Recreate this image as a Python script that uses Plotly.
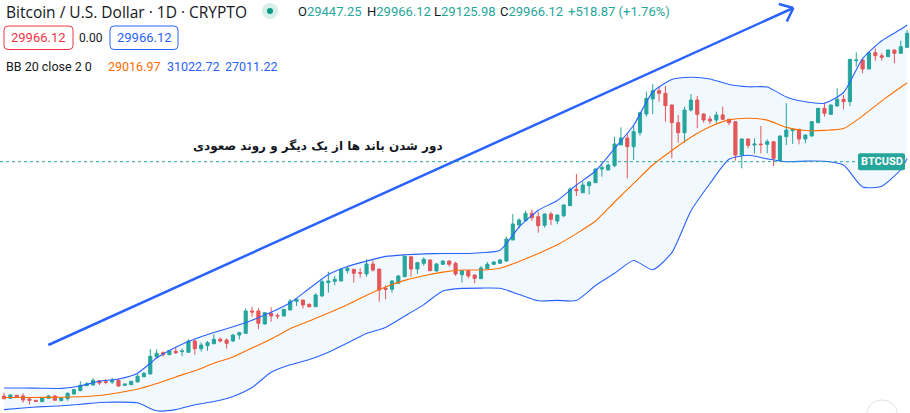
import math
import plotly.graph_objects as go

W, H = 910, 413
X_RANGE = [-0.63, 142.45]
Y_RANGE = [9350, 30000]

GREEN = "#26a69a"
RED = "#ef5350"
BLUE = "#2962ff"
ORANGE = "#ff6d00"
TEXT = "#131722"

# ---------------- candles (daily OHLC) ----------------
OPEN = [10200, 10085, 10235, 10200, 10050, 9985, 9915, 10085, 10200, 9965,
        10065, 10300, 10465, 10715, 10750, 10965, 10915, 10900, 10985, 10735,
        10765, 10900, 11165, 11300, 12150, 12365, 12265, 12435, 12415, 12385,
        12950, 12565, 12715, 12815, 13035, 13000, 12950, 13250, 13335, 14450,
        14450, 13800, 14335, 14225, 14200, 14500, 14935, 15000, 14785, 14665,
        15200, 15865, 15935, 15950, 16465, 16535, 16365, 16300, 16800, 16550,
        15585, 15535, 15835, 16165, 17165, 16550, 16835, 17000, 16450, 16785,
        16950, 16835, 16265, 16465, 16250, 16065, 16565, 16785, 16835, 16950,
        18000, 18750, 18965, 19335, 19165, 18735, 19300, 18950, 19215, 19715,
        20535, 20365, 20715, 20865, 21550, 21500, 21715, 22750, 23100, 22665,
        23365, 24300, 25050, 25465, 25335, 24750, 23865, 23365, 24500, 25000,
        24300, 24050, 24000, 24250, 24035, 23915, 22250, 23050, 22750, 22800,
        22785, 22915, 21965, 23165, 23465, 23535, 23050, 23200, 23865, 24585,
        24285, 24700, 25035, 24915, 26965, 27000, 26550, 27365, 27215, 27165,
        27500, 27335, 27635]
HIGH = [10365, 10285, 10250, 10335, 10135, 10000, 10115, 10250, 10250, 10115,
        10385, 10565, 10950, 10900, 11085, 10985, 11050, 11115, 11050, 10815,
        10950, 11315, 11400, 12550, 12535, 12435, 12485, 12650, 12565, 13035,
        13035, 12885, 12950, 13285, 13135, 13085, 13300, 13415, 14585, 14665,
        14585, 14400, 14635, 14335, 14550, 15050, 15100, 15000, 14825, 15335,
        16000, 16415, 16200, 16600, 16700, 16550, 16585, 17050, 16985, 16550,
        15735, 16000, 16250, 17200, 17165, 16915, 17135, 17025, 16850, 16975,
        16975, 16915, 16475, 16475, 16275, 16700, 16900, 16925, 17050, 18165,
        19300, 19085, 19465, 19535, 19415, 19325, 19415, 19275, 19775, 20635,
        21300, 20915, 20925, 21575, 21750, 21835, 23165, 23635, 23300, 23750,
        24415, 25415, 25800, 25700, 25700, 24775, 24250, 24665, 25300, 25200,
        24325, 24200, 24415, 24665, 24050, 23925, 23075, 23075, 23085, 23700,
        23035, 22925, 23225, 24835, 23575, 23550, 23275, 23950, 24600, 24865,
        24775, 25585, 25250, 27050, 27385, 27025, 27400, 27585, 27335, 27535,
        27525, 27965, 28500]
LOW = [10035, 10065, 10115, 9865, 9785, 9925, 9915, 10050, 9965, 9950,
       9965, 10265, 10465, 10700, 10735, 10750, 10785, 10800, 10665, 10715,
       10750, 10900, 11135, 11300, 12100, 12165, 12250, 12300, 12185, 12385,
       12265, 12415, 12465, 12785, 12885, 12565, 12900, 13035, 13335, 14165,
       13535, 13775, 13915, 14050, 14175, 14500, 14700, 14565, 14625, 14665,
       15165, 15365, 15735, 15950, 16335, 15865, 16115, 16165, 16415, 14915,
       15035, 15365, 15800, 16165, 16165, 16300, 16715, 16450, 16425, 16750,
       16665, 16200, 15865, 16085, 15835, 16065, 16550, 16750, 16825, 16915,
       18000, 18585, 18950, 18965, 18365, 18615, 18750, 18785, 19135, 19715,
       20200, 20365, 20285, 20865, 21165, 21500, 21635, 22750, 21085, 22000,
       23215, 24165, 24300, 24915, 23915, 22085, 22865, 22865, 24415, 23585,
       23865, 23800, 23835, 24000, 23750, 21965, 21585, 22585, 22335, 22335,
       22335, 21700, 21950, 22750, 22800, 22785, 22835, 23175, 23850, 24165,
       24250, 24675, 24535, 24700, 26665, 26335, 26550, 26965, 26965, 27150,
       26835, 27325, 27635]
CLOSE = [10065, 10250, 10135, 10000, 9985, 9935, 10100, 10200, 9985, 10100,
         10335, 10515, 10735, 10815, 10985, 10850, 10885, 10985, 10700, 10800,
         10935, 11185, 11335, 12185, 12335, 12265, 12465, 12365, 12450, 12950,
         12565, 12750, 12865, 13035, 12950, 12835, 13250, 13365, 14450, 14400,
         13835, 14365, 14200, 14200, 14535, 14950, 15035, 14750, 14665, 15250,
         15915, 15950, 16035, 16535, 16585, 16335, 16335, 16800, 16500, 15500,
         15535, 15950, 16200, 17200, 16550, 16865, 17035, 16465, 16800, 16950,
         16785, 16300, 16465, 16200, 16085, 16600, 16785, 16900, 17000, 18050,
         18800, 19000, 19335, 19115, 18715, 19300, 19035, 19250, 19750, 20535,
         20465, 20750, 20900, 21550, 21615, 21750, 22800, 23100, 22665, 23415,
         24365, 25085, 25465, 25335, 24715, 23865, 23365, 24500, 25000, 24285,
         24000, 23950, 24250, 24035, 23865, 22250, 23050, 22735, 22800, 22765,
         22915, 22085, 23200, 23500, 23550, 23050, 23250, 23915, 24585, 24335,
         24750, 25035, 24915, 27035, 27000, 26550, 27365, 27215, 27135, 27500,
         27335, 27665, 28335]
BAR_INDEX = list(range(len(CLOSE)))

# ---------------- Bollinger Bands (20, close, 2) read at bar positions ----------------
BAND_X = [0, 3, 6, 9, 12, 15, 18, 21, 24, 27, 30, 33, 36, 39, 42, 45, 48, 51, 54, 57,
          60, 63, 66, 69, 72, 75, 78, 81, 84, 87, 90, 93, 96, 99, 102, 105, 108, 111,
          114, 117, 120, 123, 126, 129, 132, 135, 138, 141, 142]
BB_UPPER = [10600, 10600, 10590, 10580, 10700, 10940, 11050, 11340, 12100, 12640,
            13050, 13370, 13665, 13990, 14385, 14860, 15575, 16275, 16675, 16945,
            17180, 17260, 17305, 17325, 17325, 17365, 17490, 18650, 19490, 19975,
            20750, 21450, 22575, 23735, 25400, 26025, 26135, 26050, 25775, 25660,
            25650, 25150, 24910, 24840, 25375, 27065, 27960, 28535, 28750]
BB_BASIS = [10125, 10125, 10130, 10135, 10165, 10225, 10365, 10535, 10820, 11155,
            11465, 11835, 12150, 12600, 13050, 13565, 13950, 14350, 14765, 15240,
            15650, 15980, 16215, 16395, 16500, 16500, 16590, 16930, 17325, 17765,
            18320, 18950, 19900, 20830, 21750, 22475, 23140, 23660, 24005, 24085,
            23995, 23630, 23475, 23480, 23570, 24205, 24955, 25640, 25850]
BB_LOWER = [9520, 9600, 9670, 9710, 9785, 9875, 9895, 9860, 9460, 9520,
            9760, 9925, 10180, 10625, 11385, 11760, 12020, 12390, 12850, 13320,
            13630, 14190, 14770, 15450, 15580, 15595, 15585, 15275, 14960, 14980,
            14975, 15725, 16340, 16975, 16510, 17370, 19450, 20825, 22035, 22235,
            22055, 21915, 21945, 21935, 21745, 20650, 20690, 21525, 22070]

# ---------------- drawings ----------------
PRICE_LINE = 21915
PRICE_LABEL = "BTCUSD"
ARROW_START = (6.97, 12750)
ARROW_END = (124.1, 29600)
NOTE_POS = (49.4, 22700)
NOTE_TEXT = "دور شدن باند ها از یک دیگر و روند صعودی"

TITLE = "Bitcoin / U.S. Dollar · 1D · CRYPTO"
OHLC_LABELS = ["O", "H", "L", "C", ""]
OHLC_VALUES = ["29447.25", "29966.12", "29125.98", "29966.12", "+518.87 (+1.76%)"]
BB_TITLE = "BB 20 close 2 0"
BB_VALUES = ["29016.97", "31022.72", "27011.22"]
LAST_PRICE = "29966.12"
SPREAD = "0.00"


def to_px(xv, yv):
    xp = (xv - X_RANGE[0]) / (X_RANGE[1] - X_RANGE[0]) * W
    yp = (Y_RANGE[1] - yv) / (Y_RANGE[1] - Y_RANGE[0]) * H
    return xp, yp


def from_px(xp, yp):
    xv = X_RANGE[0] + xp / W * (X_RANGE[1] - X_RANGE[0])
    yv = Y_RANGE[1] - yp / H * (Y_RANGE[1] - Y_RANGE[0])
    return xv, yv


def px(x):
    return x / W


def py(y):
    return 1 - y / H


def rounded_rect(x0, y0, x1, y1, r):
    return (f"M {px(x0 + r)},{py(y0)} L {px(x1 - r)},{py(y0)} "
            f"Q {px(x1)},{py(y0)} {px(x1)},{py(y0 + r)} "
            f"L {px(x1)},{py(y1 - r)} Q {px(x1)},{py(y1)} {px(x1 - r)},{py(y1)} "
            f"L {px(x0 + r)},{py(y1)} Q {px(x0)},{py(y1)} {px(x0)},{py(y1 - r)} "
            f"L {px(x0)},{py(y0 + r)} Q {px(x0)},{py(y0)} {px(x0 + r)},{py(y0)} Z")


fig = go.Figure()

band_line = dict(color=BLUE, width=1.1, shape="spline", smoothing=0.6)
fig.add_trace(go.Scatter(x=BAND_X, y=BB_LOWER, mode="lines", line=band_line, hoverinfo="skip"))
fig.add_trace(go.Scatter(x=BAND_X, y=BB_UPPER, mode="lines", line=band_line, fill="tonexty",
                         fillcolor="rgba(33,150,243,0.06)", hoverinfo="skip"))
fig.add_trace(go.Scatter(x=BAND_X, y=BB_BASIS, mode="lines",
                         line=dict(color=ORANGE, width=1.1, shape="spline", smoothing=0.6),
                         hoverinfo="skip"))

fig.add_trace(go.Candlestick(
    x=BAR_INDEX, open=OPEN, high=HIGH, low=LOW, close=CLOSE,
    increasing=dict(line=dict(color=GREEN, width=1), fillcolor=GREEN),
    decreasing=dict(line=dict(color=RED, width=1), fillcolor=RED),
    whiskerwidth=0,
))

# arrow drawing
sx, sy = to_px(*ARROW_START)
ex, ey = to_px(*ARROW_END)
ang = math.atan2(sy - ey, sx - ex)
ax_list, ay_list = [ARROW_START[0], ARROW_END[0], None], [ARROW_START[1], ARROW_END[1], None]
for d in (math.radians(40), -math.radians(40)):
    bx = ex + 15 * math.cos(ang + d)
    by = ey + 15 * math.sin(ang + d)
    bxv, byv = from_px(bx, by)
    ax_list += [bxv, ARROW_END[0], None]
    ay_list += [byv, ARROW_END[1], None]
fig.add_trace(go.Scatter(x=ax_list, y=ay_list, mode="lines",
                         line=dict(color=BLUE, width=2.5), hoverinfo="skip"))

shapes = []
annotations = []

# price line + label
_, ply = to_px(0, PRICE_LINE)
shapes.append(dict(type="line", xref="paper", yref="y", x0=0, x1=px(858),
                   y0=PRICE_LINE, y1=PRICE_LINE,
                   line=dict(color=GREEN, width=1, dash="dot")))
shapes.append(dict(type="path", xref="paper", yref="paper",
                   path=rounded_rect(858, ply - 8.5, 905, ply + 8.5, 2),
                   fillcolor=GREEN, line=dict(width=0)))
annotations.append(dict(x=px(881.5), y=py(ply), xref="paper", yref="paper",
                        text=f"<b>{PRICE_LABEL}</b>", showarrow=False,
                        xanchor="center", yanchor="middle",
                        font=dict(family="Roboto", size=11, color="white")))

# Persian note
annotations.append(dict(x=NOTE_POS[0], y=NOTE_POS[1], xref="x", yref="y",
                        text=f"<b>{NOTE_TEXT}</b>",
                        showarrow=False, xanchor="center", yanchor="middle",
                        font=dict(family="DejaVu Sans", size=12, color=TEXT)))

# header line 1
annotations.append(dict(x=px(4), y=py(12), xref="paper", yref="paper", text=TITLE,
                        showarrow=False, xanchor="left", yanchor="middle",
                        font=dict(family="Open Sans", size=15.5, color=TEXT)))
shapes.append(dict(type="circle", xref="paper", yref="paper",
                   x0=px(262), x1=px(278), y0=py(3), y1=py(19),
                   fillcolor="#d7efeb", line=dict(width=0)))
shapes.append(dict(type="circle", xref="paper", yref="paper",
                   x0=px(267), x1=px(273), y0=py(8), y1=py(14),
                   fillcolor="#089981", line=dict(width=0)))
ohlc_x = [296, 365, 432, 498, 566]
for xx, lab, val in zip(ohlc_x, OHLC_LABELS, OHLC_VALUES):
    annotations.append(dict(x=px(xx), y=py(12), xref="paper", yref="paper",
                            text=f"{lab}<span style='color:{GREEN}'>{val}</span>",
                            showarrow=False, xanchor="left", yanchor="middle",
                            font=dict(family="Roboto", size=13, color=TEXT)))

# header line 2
shapes.append(dict(type="path", xref="paper", yref="paper",
                   path=rounded_rect(4, 26, 73, 49.5, 4), fillcolor="white",
                   line=dict(color="#f23645", width=1)))
shapes.append(dict(type="path", xref="paper", yref="paper",
                   path=rounded_rect(110, 26, 178, 49.5, 4), fillcolor="white",
                   line=dict(color=BLUE, width=1)))
annotations.append(dict(x=px(38.5), y=py(38), xref="paper", yref="paper", text=LAST_PRICE,
                        showarrow=False, xanchor="center", yanchor="middle",
                        font=dict(family="Roboto", size=13, color="#f23645")))
annotations.append(dict(x=px(91), y=py(38), xref="paper", yref="paper", text=SPREAD,
                        showarrow=False, xanchor="center", yanchor="middle",
                        font=dict(family="Roboto", size=12, color=TEXT)))
annotations.append(dict(x=px(144), y=py(38), xref="paper", yref="paper", text=LAST_PRICE,
                        showarrow=False, xanchor="center", yanchor="middle",
                        font=dict(family="Roboto", size=13, color=BLUE)))

# header line 3
annotations.append(dict(x=px(4), y=py(66), xref="paper", yref="paper", text=BB_TITLE,
                        showarrow=False, xanchor="left", yanchor="middle",
                        font=dict(family="Roboto", size=12.5, color=TEXT)))
for xx, val, col in zip([106, 165, 223], BB_VALUES, [ORANGE, BLUE, BLUE]):
    annotations.append(dict(x=px(xx), y=py(66), xref="paper", yref="paper", text=val,
                            showarrow=False, xanchor="left", yanchor="middle",
                            font=dict(family="Roboto", size=12.5, color=col)))

# scroll button (bottom right)
shapes.append(dict(type="circle", xref="paper", yref="paper",
                   x0=px(866), x1=px(898), y0=py(400), y1=py(432),
                   fillcolor="white", line=dict(color="#e0e3eb", width=1)))

fig.update_layout(
    width=W, height=H,
    margin=dict(l=0, r=0, t=0, b=0),
    plot_bgcolor="white", paper_bgcolor="white",
    showlegend=False, hovermode=False,
    xaxis=dict(range=X_RANGE, visible=False, rangeslider=dict(visible=False), fixedrange=True),
    yaxis=dict(range=Y_RANGE, visible=False, fixedrange=True),
    shapes=shapes, annotations=annotations,
)

fig.write_html("out.html")
